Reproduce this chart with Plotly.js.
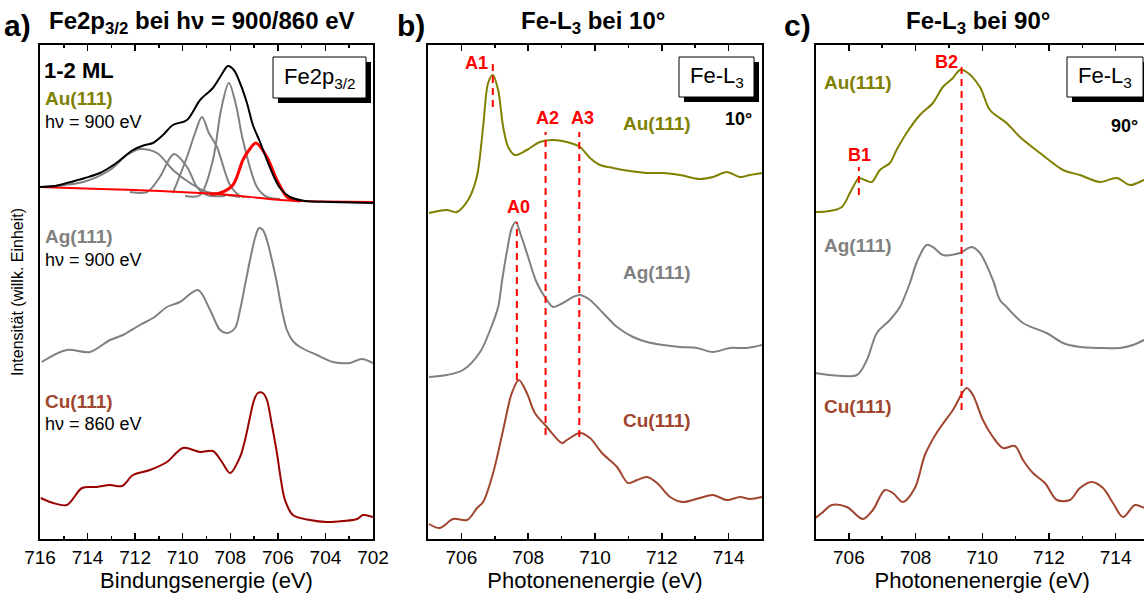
<!DOCTYPE html>
<html>
<head>
<meta charset="utf-8">
<script src="https://cdn.plot.ly/plotly-3.0.1.min.js"></script>
<style>
html,body{margin:0;padding:0;overflow:hidden;background:#fff;width:1144px;height:593px;}
#plot{width:1152px;height:593px;}
</style>
</head>
<body>
<div id="plot"></div>
<script>
// ---------------- DATA ----------------
// Panel a: Fe2p3/2 XPS (binding energy, eV) - intensity in arbitrary units (stacked)
const a_Au_E   = [716.0,715.37,714.87,714.11,713.48,712.85,712.09,711.59,711.25,710.83,710.41,709.82,709.27,708.73,708.35,708.10,707.85,707.59,707.30,707.05,706.75,706.46,706.16,705.91,705.49,704.86,703.81,702.0];
const a_Au_I   = [351,352,355,360,365,374,388,393,395,403,413,418,438,450,464,472,468,455,435,413,396,378,361,350,341,337,336,335];
const a_base_E = [716.0,713.48,710.96,709.27,708.02,706.75,705.91,705.07,702.0];
const a_base_I = [351,349,347,345,343,340,338,337,336];
const a_fitRed_E = [708.85,708.43,707.89,707.47,707.21,706.92,706.46,706.04,705.62,705.37,705.07];
const a_fitRed_I = [344,345,353,378,388,395,381,358,341,338,337];
const a_fit1_E = [716.0,714.19,713.06,712.34,711.80,711.08,710.41,709.69,708.98,708.14,707.59];
const a_fit1_I = [351,356,368,383,389,385,368,355,346,343,341];
const a_fit2_E = [712.22,711.50,710.96,710.37,709.82,709.40,708.98,708.22];
const a_fit2_I = [346,346,361,384,371,351,343,342];
const a_fit3_E = [710.41,709.82,709.48,709.19,708.90,708.56,708.01,707.59,707.38];
const a_fit3_I = [345,381,405,421,405,391,353,342,341];
const a_fit4_E = [709.90,709.27,708.73,708.39,708.06,707.76,707.47,706.88,706.46,705.91];
const a_fit4_I = [342,343,378,428,455,433,398,351,341,339];
const a_Ag_E = [715.93,714.88,713.90,713.06,712.51,711.80,711.25,710.66,710.12,709.36,708.85,708.43,708.14,707.80,707.59,707.38,707.17,706.96,706.79,706.63,706.46,706.25,706.04,705.83,705.62,705.37,705.07,704.36,703.68,702.97,702.47,702.0];
const a_Ag_I = [176,188,186,198,203,213,220,231,236,248,228,208,205,210,228,253,278,300,310,308,298,278,255,228,208,197,191,183,176,175,179,175];
const a_Cu_E = [715.97,715.45,714.87,714.23,713.60,713.06,712.55,712.09,711.38,710.66,709.99,709.27,708.73,708.35,708.01,707.59,707.38,707.17,707.00,706.84,706.63,706.46,706.25,706.04,705.87,705.70,705.37,704.65,703.94,703.26,702.67,702.42,702.0];
const a_Cu_I = [40,35,33,50,51,53,52,63,68,76,90,86,87,76,65,81,98,121,138,145,145,138,113,85,58,38,23,18,16,17,19,23,21];

// Panel b: Fe-L3 XAS at 10 deg (photon energy, eV)
const b_Au_E = [705.03,705.56,705.86,706.20,706.46,706.65,706.80,706.94,707.10,707.25,707.40,707.60,707.96,708.35,708.74,709.16,709.55,709.85,710.15,710.54,711.05,711.56,712.04,712.54,713.14,713.53,713.95,714.34,714.64,715.0];
const b_Au_I = [325,328,326,338,361,411,455,463,448,411,391,383,388,396,398,396,391,380,373,370,367,365,365,363,359,361,366,361,363,365];
const b_Ag_E = [705.03,705.56,706.05,706.56,706.86,707.10,707.22,707.37,707.51,707.63,707.78,707.96,708.26,708.56,708.74,709.04,709.34,709.55,709.85,710.24,710.66,711.14,711.56,712.04,712.54,713.05,713.53,714.04,714.55,715.0];
const b_Ag_I = [161,163,168,186,208,231,258,288,310,316,303,285,255,238,231,235,241,243,238,225,211,201,196,193,191,190,186,190,190,193];
const b_Cu_E = [705.03,705.36,705.75,706.17,706.47,706.65,706.95,707.25,707.51,707.72,707.96,708.20,708.56,709.01,709.16,709.55,709.85,710.21,710.66,710.99,711.26,711.56,711.86,712.25,712.63,713.14,713.53,713.95,714.34,714.64,715.0];
const b_Cu_I = [14,10,19,18,30,36,65,108,145,158,145,125,111,95,98,105,100,85,71,55,58,61,55,41,36,40,43,38,41,39,41];
const b_mark_names = ["A1","A0","A2","A3"];
const b_mark_E     = [706.94,707.66,708.52,709.53];
const b_mark_lo    = [431,158,103,101];
const b_mark_hi    = [478,316,406,406];

// Panel c: Fe-L3 XAS at 90 deg
const c_Au_E = [705.0,705.43,705.79,706.03,706.21,706.30,706.48,706.69,706.93,707.23,707.43,707.73,708.13,708.52,708.82,709.12,709.33,709.53,709.93,710.23,710.73,711.13,711.73,712.42,712.93,713.53,714.03,714.43,714.85,715.0];
const c_Au_I = [326,327,331,345,356,360,358,356,368,375,388,405,423,435,451,460,468,466,451,428,415,401,385,368,363,356,360,353,358,360];
const c_Ag_E = [705.0,705.43,706.24,706.54,706.84,707.23,707.53,707.83,708.04,708.33,708.52,708.82,709.33,709.68,709.93,710.32,710.53,710.73,711.22,711.93,712.42,712.93,713.53,714.13,714.52,714.85,715.0];
const c_Ag_I = [165,163,163,178,205,218,231,255,276,293,291,283,285,291,285,258,238,231,215,205,195,191,190,190,193,198,201];
const c_Cu_E = [705.0,705.19,705.49,705.94,706.42,706.72,707.08,707.32,707.62,707.98,708.28,708.63,709.12,709.53,709.72,710.02,710.32,710.62,710.98,711.22,711.52,711.88,712.24,712.63,712.93,713.28,713.62,713.92,714.22,714.58,714.85];
const c_Cu_I = [20,25,33,31,19,28,48,45,36,50,83,105,128,150,143,118,101,90,92,78,65,55,38,38,50,56,50,35,21,33,30];
const c_mark_names = ["B1","B2"];
const c_mark_E     = [706.30,709.38];
const c_mark_lo    = [343,128];
const c_mark_hi    = [371,471];

// tick labels
const a_ticks = [716,714,712,710,708,706,704,702];
const bc_ticks = [706,708,710,712,714];

// ---------------- STYLE ----------------
const W = 1152, H = 593;
const FONT = "Arial, 'Liberation Sans', sans-serif";
const OLIVE = "#808000", GRAY = "#808080", BROWN = "#A0452E", DARKRED = "#990000", RED = "#FF0000";
const PX = x => x / W, PY = y => 1 - y / H;

const traces = [];
function line(x, y, color, width, xa, ya, dash) {
  traces.push({x: x, y: y, type: "scatter", mode: "lines", xaxis: xa, yaxis: ya,
    line: {color: color, width: width, shape: "spline", smoothing: 0.9, dash: dash || "solid"},
    hoverinfo: "skip", showlegend: false});
}
// panel a
line(a_fit1_E, a_fit1_I, GRAY, 2, "x", "y");
line(a_fit2_E, a_fit2_I, GRAY, 2, "x", "y");
line(a_fit3_E, a_fit3_I, GRAY, 2, "x", "y");
line(a_fit4_E, a_fit4_I, GRAY, 2, "x", "y");
line(a_base_E, a_base_I, RED, 2, "x", "y");
line(a_fitRed_E, a_fitRed_I, RED, 3, "x", "y");
line(a_Au_E, a_Au_I, "#000000", 2, "x", "y");
line(a_Ag_E, a_Ag_I, GRAY, 2, "x", "y");
line(a_Cu_E, a_Cu_I, DARKRED, 2, "x", "y");
// panel b
line(b_Au_E, b_Au_I, OLIVE, 2, "x2", "y2");
line(b_Ag_E, b_Ag_I, GRAY, 2, "x2", "y2");
line(b_Cu_E, b_Cu_I, BROWN, 2, "x2", "y2");
// panel c
line(c_Au_E, c_Au_I, OLIVE, 2, "x3", "y3");
line(c_Ag_E, c_Ag_I, GRAY, 2, "x3", "y3");
line(c_Cu_E, c_Cu_I, BROWN, 2, "x3", "y3");
// red marker lines
b_mark_E.forEach((e, i) => traces.push({x: [e, e], y: [b_mark_lo[i], b_mark_hi[i]], type: "scatter", mode: "lines",
  xaxis: "x2", yaxis: "y2", line: {color: RED, width: 2, dash: "7px,5px"}, hoverinfo: "skip", showlegend: false}));
c_mark_E.forEach((e, i) => traces.push({x: [e, e], y: [c_mark_lo[i], c_mark_hi[i]], type: "scatter", mode: "lines",
  xaxis: "x3", yaxis: "y3", line: {color: RED, width: 2, dash: "7px,5px"}, hoverinfo: "skip", showlegend: false}));

const yDom = [1 - 539 / H, 1 - 45 / H];
function xax(dom, range, ticks, title) {
  return {domain: dom, range: range, tickvals: ticks, ticktext: ticks.map(String),
    ticks: "inside", ticklen: 6, tickwidth: 1.5, tickcolor: "#000",
    minor: {ticks: "inside", dtick: 1, ticklen: 3, tickwidth: 1.5, tickcolor: "#000"},
    showline: true, linecolor: "#000", linewidth: 2, mirror: "ticks", showgrid: false, zeroline: false,
    tickfont: {family: FONT, size: 19, color: "#000"}, automargin: false,
    title: {text: title, font: {family: FONT, size: 22, color: "#000"}, standoff: 0}};
}
function yax(anchor) {
  return {domain: yDom, range: [-1, 493], anchor: anchor, showticklabels: false, ticks: "", automargin: false,
    showline: true, linecolor: "#000", linewidth: 2, mirror: true, showgrid: false, zeroline: false};
}

const ann = [];
function txt(x, y, text, size, color, bold, xanchor, ref) {
  ann.push({x: x, y: y, xref: ref ? ref[0] : "paper", yref: ref ? ref[1] : "paper", text: bold ? "<b>" + text + "</b>" : text,
    showarrow: false, xanchor: xanchor || "center", yanchor: "middle",
    font: {family: FONT, size: size, color: color}});
}
// panel titles
txt(PX(2), PY(25), "a)", 30, "#000", true, "left");
txt(PX(47), PY(22), "Fe2p<sub>3/2</sub> bei hν = 900/860 eV", 24, "#000", true, "left");
txt(PX(395), PY(25), "b)", 30, "#000", true, "left");
txt(PX(593), PY(22), "Fe-L<sub>3</sub> bei 10°", 24, "#000", true);
txt(PX(782), PY(25), "c)", 30, "#000", true, "left");
txt(PX(978), PY(22), "Fe-L<sub>3</sub> bei 90°", 24, "#000", true);
// panel a labels
txt(PX(42), PY(70), "1-2 ML", 22, "#000", true, "left");
txt(PX(43), PY(99), "Au(111)", 19, OLIVE, true, "left");
txt(PX(43), PY(122), "hν = 900 eV", 18, "#000", false, "left");
txt(PX(43), PY(236), "Ag(111)", 19, GRAY, true, "left");
txt(PX(43), PY(260), "hν = 900 eV", 18, "#000", false, "left");
txt(PX(43), PY(401), "Cu(111)", 19, BROWN, true, "left");
txt(PX(43), PY(424), "hν = 860 eV", 18, "#000", false, "left");
// panel b labels
txt(PX(657), PY(123), "Au(111)", 19, OLIVE, true);
txt(PX(738), PY(119), "10°", 18, "#000", true);
txt(PX(657), PY(273), "Ag(111)", 19, GRAY, true);
txt(PX(657), PY(420), "Cu(111)", 19, BROWN, true);
// panel c labels
txt(PX(858), PY(83), "Au(111)", 19, OLIVE, true);
txt(PX(1124), PY(126), "90°", 18, "#000", true);
txt(PX(858), PY(245), "Ag(111)", 19, GRAY, true);
txt(PX(858), PY(407), "Cu(111)", 19, BROWN, true);
// marker labels
const b_lab_pos = [[476, 63], [518, 207], [547, 118], [582, 118]];
b_mark_names.forEach((n, i) => txt(PX(b_lab_pos[i][0]), PY(b_lab_pos[i][1]), n, 18, RED, true));
const c_lab_pos = [[859, 155], [946, 62]];
c_mark_names.forEach((n, i) => txt(PX(c_lab_pos[i][0]), PY(c_lab_pos[i][1]), n, 18, RED, true));

// legend-like boxes with shadow
const shapes = [];
function box(x0, y0, x1, y1, label) {
  shapes.push({type: "rect", xref: "paper", yref: "paper", x0: PX(x0 + 5), x1: PX(x1 + 5), y0: PY(y0 + 5), y1: PY(y1 + 5),
    fillcolor: "#000", line: {width: 0}});
  shapes.push({type: "rect", xref: "paper", yref: "paper", x0: PX(x0), x1: PX(x1), y0: PY(y0), y1: PY(y1),
    fillcolor: "#fff", line: {color: "#000", width: 1}});
  txt(PX((x0 + x1) / 2), PY((y0 + y1) / 2), label, 22, "#000", false);
}
box(273, 57, 366, 98, "Fe2p<sub>3/2</sub>");
box(679, 57, 754, 97, "Fe-L<sub>3</sub>");
box(1067, 57, 1143, 97, "Fe-L<sub>3</sub>");

const yaxisA = yax("x");
yaxisA.title = {text: "Intensität (willk. Einheit)", font: {family: FONT, size: 16, color: "#000"}, standoff: 10};

const layout = {
  width: W, height: H, margin: {l: 0, r: 0, t: 0, b: 0},
  paper_bgcolor: "#fff", plot_bgcolor: "rgba(0,0,0,0)", showlegend: false,
  xaxis: xax([PX(40), PX(373)], [716, 702], a_ticks, "Bindungsenergie (eV)"),
  yaxis: yaxisA,
  xaxis2: Object.assign(xax([PX(428), PX(762)], [705, 715], bc_ticks, "Photonenenergie (eV)"), {anchor: "y2"}),
  yaxis2: yax("x2"),
  xaxis3: Object.assign(xax([PX(815.5), PX(1149)], [705, 715], bc_ticks, "Photonenenergie (eV)"), {anchor: "y3"}),
  yaxis3: yax("x3"),
  annotations: ann, shapes: shapes
};
layout.xaxis.anchor = "y";
Plotly.newPlot("plot", traces, layout, {displayModeBar: false, staticPlot: true});
</script>
</body>
</html>
